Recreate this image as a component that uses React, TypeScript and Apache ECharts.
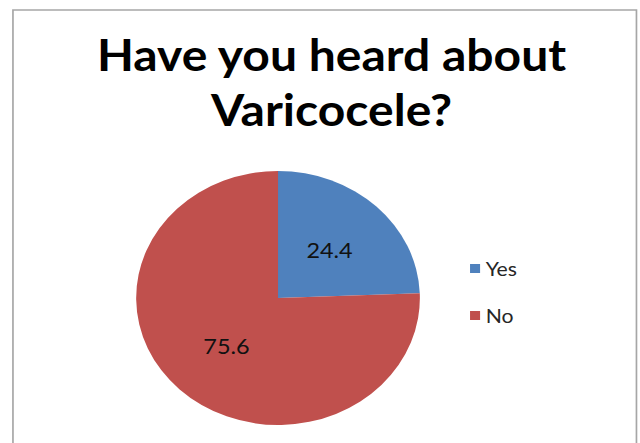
import React, { useEffect, useRef } from "react";
import * as echarts from "echarts";

const categories = ["Yes", "No"];
const values = [24.4, 75.6];
const colors = ["#4F81BD", "#C0504D"];
const titleText = "Have you heard about\nVaricocele?";

const SX = 1.117;
const W = 640 / SX;
const H = 443;

export default function App() {
  const ref = useRef<HTMLDivElement>(null);
  useEffect(() => {
    if (!ref.current) return;
    const chart = echarts.init(ref.current, undefined, { renderer: "svg", width: W, height: H });
    chart.setOption({
      animation: false,
      backgroundColor: "#ffffff",
      title: {
        text: titleText,
        left: 296.8,
        top: 27,
        padding: 0,
        textAlign: "center",
        textStyle: {
          fontFamily: "Lato",
          fontWeight: "bold",
          fontSize: 43,
          lineHeight: 55,
          color: "#000000",
        },
      },
      legend: {
        orient: "vertical",
        left: 420.8,
        top: 259,
        padding: 0,
        itemWidth: 9,
        itemHeight: 9,
        itemGap: 28,
        icon: "rect",
        data: categories,
        textStyle: { fontFamily: "Lato", fontSize: 19, color: "#262626" },
      },
      graphic: [
        {
          type: "rect",
          shape: { x: 11.6, y: 10, width: 558.2, height: 460 },
          style: { fill: "none", stroke: "#A6A6A6", lineWidth: 1.5 },
          silent: true,
        },
      ],
      series: [
        {
          type: "pie",
          center: [248.9, 298],
          radius: 127,
          startAngle: 90,
          clockwise: true,
          color: colors,
          itemStyle: { borderWidth: 0 },
          label: {
            show: true,
            position: "inside",
            formatter: (p: any) => String(p.value),
            fontFamily: "Lato",
            fontSize: 21,
            color: "#111111",
          },
          labelLine: { show: false },
          emphasis: { disabled: true },
          data: categories.map((c, i) => ({ name: c, value: values[i] })),
        },
      ],
    });
    return () => chart.dispose();
  }, []);
  return (
    <div style={{ position: "fixed", left: 0, top: 0, width: 640, height: 443, overflow: "hidden", background: "#fff" }}>
      <div
        ref={ref}
        style={{ width: W, height: H, transform: `scaleX(${SX})`, transformOrigin: "0 0" }}
      />
    </div>
  );
}
